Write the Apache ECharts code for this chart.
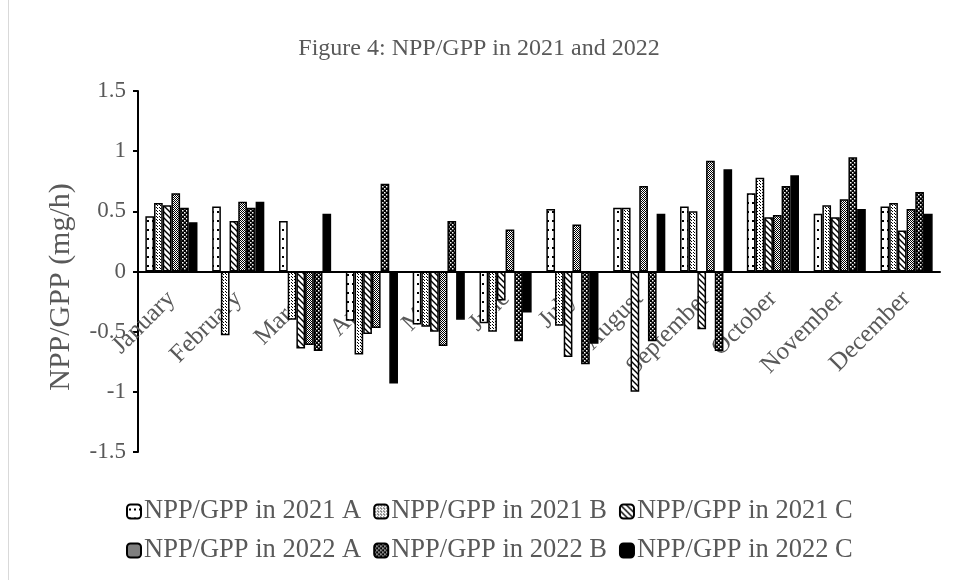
<!DOCTYPE html>
<html>
<head>
<meta charset="utf-8">
<script src="https://cdn.jsdelivr.net/npm/echarts@6/dist/echarts.min.js"></script>
<style>html,body{margin:0;padding:0;background:#fff}#c{width:958px;height:580px}</style>
</head>
<body>
<div id="c"></div>
<script>
const months = ['January','February','March','April','May','June','July','August','September','October','November','December'];
const yTicks = [-1.5, -1, -0.5, 0, 0.5, 1, 1.5];
const npp2021A = [0.46, 0.54, 0.42, -0.41, -0.44, -0.43, 0.52, 0.53, 0.54, 0.65, 0.48, 0.54];
const npp2021B = [0.57, -0.53, -0.40, -0.69, -0.46, -0.50, -0.45, 0.53, 0.50, 0.78, 0.55, 0.57];
const npp2021C = [0.55, 0.42, -0.64, -0.52, -0.50, -0.24, -0.71, -1.00, -0.48, 0.45, 0.45, 0.34];
const npp2022A = [0.65, 0.58, -0.61, -0.47, -0.62, 0.35, 0.39, 0.71, 0.92, 0.47, 0.60, 0.52];
const npp2022B = [0.53, 0.53, -0.66, 0.73, 0.42, -0.58, -0.77, -0.58, -0.66, 0.71, 0.95, 0.66];
const npp2022C = [0.41, 0.58, 0.48, -0.93, -0.40, -0.34, -0.60, 0.48, 0.85, 0.80, 0.52, 0.48];
const seriesNames = ['NPP/GPP in 2021 A','NPP/GPP in 2021 B','NPP/GPP in 2021 C','NPP/GPP in 2022 A','NPP/GPP in 2022 B','NPP/GPP in 2022 C'];

function pat(w, h, draw) {
  const c = document.createElement('canvas');
  c.width = w; c.height = h;
  const g = c.getContext('2d');
  g.fillStyle = '#fff'; g.fillRect(0, 0, w, h);
  g.fillStyle = '#000'; g.strokeStyle = '#000';
  draw(g);
  return { image: c, repeat: 'repeat' };
}
const fills = [
  pat(5, 9, g => { g.fillRect(2, 4, 2, 2); }),
  pat(3, 3, g => { g.fillRect(1, 1, 1, 1); g.fillRect(0, 0, 1, 1); }),
  pat(6, 6, g => { g.lineWidth = 1.4; g.beginPath(); g.moveTo(-1,-1); g.lineTo(7,7); g.moveTo(5,-1); g.lineTo(7,1); g.moveTo(-1,5); g.lineTo(1,7); g.stroke(); }),
  pat(2, 2, g => { g.fillRect(0, 0, 1, 1); g.fillRect(1, 1, 1, 1); }),
  pat(4, 4, g => { g.fillRect(0, 0, 4, 4); g.fillStyle = '#fff'; g.fillRect(0, 0, 1.5, 1.5); g.fillRect(2, 2, 1.5, 1.5); }),
  '#000'
];
const values = [npp2021A, npp2021B, npp2021C, npp2022A, npp2022B, npp2022C];

const chart = echarts.init(document.getElementById('c'));
const serif = "'Liberation Serif','Times New Roman',serif";
const legendText = { fontFamily: serif, fontSize: 26.5, color: '#595959', padding: [0, 0, 0, -2] };
chart.setOption({
  animation: false,
  backgroundColor: '#fff',
  title: {
    text: 'Figure 4: NPP/GPP in 2021 and 2022',
    left: 'center', top: 32,
    textStyle: { fontFamily: serif, fontSize: 24, fontWeight: 'normal', color: '#595959' }
  },
  grid: { left: 138, right: 18, top: 91, bottom: 128, containLabel: false },
  legend: [
    { data: seriesNames.slice(0, 3), left: 121, top: 493, itemWidth: 14, itemHeight: 14, itemGap: 12, textStyle: legendText },
    { data: seriesNames.slice(3), left: 121, top: 532, itemWidth: 14, itemHeight: 14, itemGap: 12, textStyle: legendText }
  ],
  xAxis: {
    type: 'category', data: months,
    axisLine: { onZero: true, lineStyle: { color: '#000', width: 2 } },
    axisTick: { show: false },
    axisLabel: { rotate: 45, margin: -157, interval: 0, hideOverlap: false, fontFamily: serif, fontSize: 25, color: '#595959' }
  },
  yAxis: {
    type: 'value', min: yTicks[0], max: yTicks[yTicks.length - 1], interval: 0.5,
    axisLine: { show: true, lineStyle: { color: '#000', width: 2 } },
    axisTick: { show: true, length: 5, lineStyle: { color: '#000', width: 2 } },
    splitLine: { show: false },
    axisLabel: { margin: 12, fontFamily: serif, fontSize: 23, color: '#595959' }
  },
  graphic: [
    { type: 'text', x: 61, y: 287, rotation: Math.PI / 2,
      style: { text: 'NPP/GPP (mg/h)', fontFamily: serif, fontSize: 30, fill: '#595959', align: 'center', verticalAlign: 'middle' } },
    { type: 'line', shape: { x1: 8.5, y1: 0, x2: 8.5, y2: 580 }, style: { stroke: '#d9d9d9', lineWidth: 1 } }
  ],
  series: seriesNames.map((n, i) => ({
    name: n, type: 'bar', data: values[i],
    barGap: '0%', barCategoryGap: '22%',
    itemStyle: { color: fills[i], borderColor: '#000', borderWidth: 1.5 }
  }))
});
</script>
</body>
</html>
